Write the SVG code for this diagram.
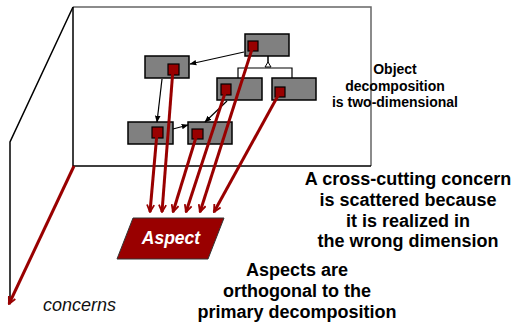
<svg xmlns="http://www.w3.org/2000/svg" width="516" height="323" viewBox="0 0 516 323">
  <style>
    .edge { fill: none; stroke: #000; stroke-width: 1.5; }
    .edge-gray { fill: none; stroke: #666; stroke-width: 1.5; }
    .obj { fill: #808080; stroke: #000; stroke-width: 1.5; }
    .dot { fill: #990000; stroke: #000; stroke-width: 1.2; }
    .dep { fill: none; stroke: #000; stroke-width: 1.2; marker-end: url(#blackArrow); }
    .cut { fill: none; stroke: #990000; stroke-width: 3; marker-end: url(#redArrow); }
    .note { font-family: "Liberation Sans", Arial, sans-serif; font-weight: bold; fill: #000; text-anchor: middle; }
  </style>
  <defs>
    <marker id="blackArrow" viewBox="0 0 10 10" refX="9" refY="5" markerWidth="7" markerHeight="7" markerUnits="userSpaceOnUse" orient="auto">
      <path d="M0,1 L10,5 L0,9 z" fill="#000"/>
    </marker>
    <marker id="redArrow" viewBox="0 0 10 10" refX="9" refY="5" markerWidth="9" markerHeight="9" markerUnits="userSpaceOnUse" orient="auto">
      <path d="M1,1 L9,5 L1,9" fill="none" stroke="#990000" stroke-width="2"/>
    </marker>
  </defs>

  <!-- the decomposition plane and its depth -->
  <g id="plane">
    <path class="edge-gray" d="M73,7 L371,7 L371,166"/>
    <path class="edge" d="M73,7 L73,166 L371,166"/>
    <path class="edge" d="M73,7 L10,142 L10,303"/>
  </g>

  <!-- object nodes -->
  <g id="obj-top">
    <rect class="obj" x="245" y="34" width="44" height="22"/>
    <rect class="dot" x="248" y="41" width="10" height="10"/>
  </g>
  <g id="obj-left">
    <rect class="obj" x="145" y="56" width="44" height="22"/>
    <rect class="dot" x="168" y="64" width="11" height="11"/>
  </g>
  <g id="obj-mid">
    <rect class="obj" x="217" y="78" width="45" height="22"/>
    <rect class="dot" x="221" y="84" width="10" height="11"/>
  </g>
  <g id="obj-right">
    <rect class="obj" x="272" y="78" width="44" height="22"/>
    <rect class="dot" x="275" y="87" width="10" height="10"/>
  </g>
  <g id="obj-bottom-left">
    <rect class="obj" x="128" y="122" width="45" height="22"/>
    <rect class="dot" x="152" y="127" width="11" height="11"/>
  </g>
  <g id="obj-bottom-mid">
    <rect class="obj" x="188" y="122" width="44" height="22"/>
    <rect class="dot" x="192" y="129" width="11" height="10"/>
  </g>

  <!-- aspect node -->
  <g id="aspect">
    <path d="M133,218 L224,218 L208,259 L117,259 Z" fill="#990000" stroke="#333" stroke-width="1"/>
    <text x="171" y="244" font-family="Liberation Sans, Arial, sans-serif" font-size="17.5" font-weight="bold" font-style="italic" fill="#fff" text-anchor="middle">Aspect</text>
  </g>

  <!-- connectors -->
  <g id="connectors">
    <!-- inheritance -->
    <path class="edge" d="M268,56 L268,63" stroke-width="1.2"/>
    <path d="M268,62 L265,67 L271,67 Z" fill="#fff" stroke="#000" stroke-width="1"/>
    <path d="M238,78 L238,68 L292,68 L292,78" fill="none" stroke="#000" stroke-width="1.2"/>
    <!-- associations -->
    <path class="dep" d="M244,52 L190,64"/>
    <path class="dep" d="M162,79 L157,122"/>
    <path class="dep" d="M173,129 L188,125"/>
    <path class="dep" d="M227,101 L205,122"/>
    <!-- scattered concern -->
    <path class="cut" d="M157,133 L150,212"/>
    <path class="cut" d="M173,69 L162,212"/>
    <path class="cut" d="M197,134 L173,212"/>
    <path class="cut" d="M226,90 L186,212"/>
    <path class="cut" d="M253,46 L200,212"/>
    <path class="cut" d="M280,92 L214,212"/>
    <!-- concern axis -->
    <path class="cut" d="M74,166 L9,304"/>
  </g>

  <!-- labels -->
  <g id="labels">
    <text class="note" font-size="14" x="395"><tspan x="395" y="74">Object</tspan><tspan x="395" y="90.5">decomposition</tspan><tspan x="395" y="107">is two-dimensional</tspan></text>
    <text class="note" font-size="18"><tspan x="408" y="185">A cross-cutting concern</tspan><tspan x="408" y="206">is scattered because</tspan><tspan x="408" y="226.5">it is realized in</tspan><tspan x="408" y="247">the wrong dimension</tspan></text>
    <text class="note" font-size="18"><tspan x="297" y="276">Aspects are</tspan><tspan x="297" y="297">orthogonal to the</tspan><tspan x="297" y="318">primary decomposition</tspan></text>
    <text x="43" y="311" font-family="Liberation Sans, Arial, sans-serif" font-size="18" font-style="italic" fill="#111">concerns</text>
  </g>
</svg>
